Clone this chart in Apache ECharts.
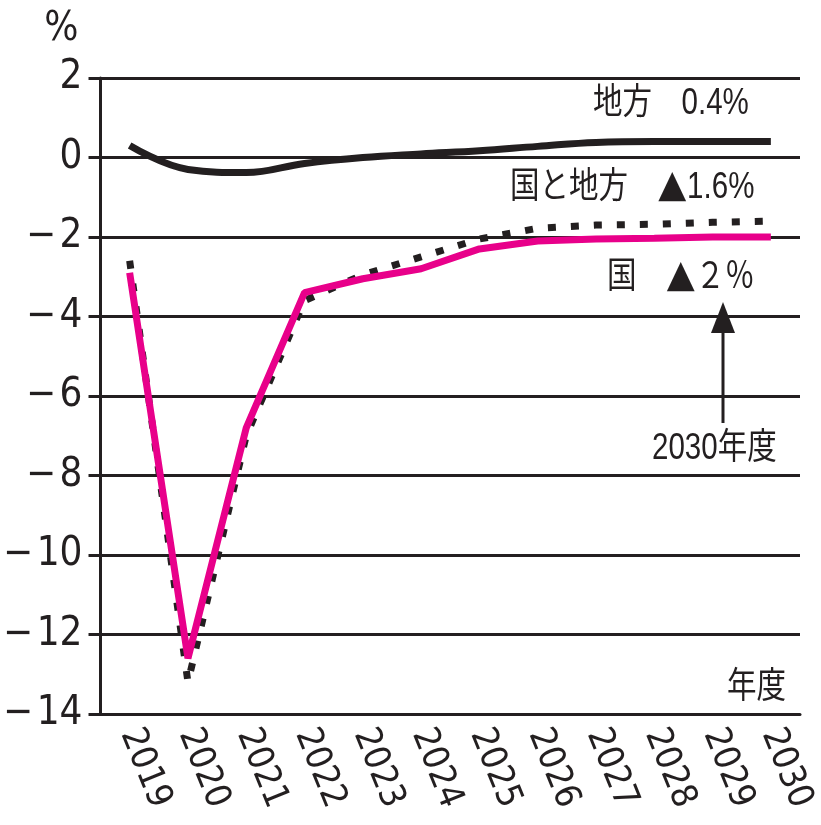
<!DOCTYPE html>
<html lang="ja">
<head>
<meta charset="UTF-8">
<title>プライマリーバランス（対GDP比）</title>
<script src="https://cdn.jsdelivr.net/npm/echarts@6/dist/echarts.min.js"></script>
<style>
  html, body { margin: 0; padding: 0; background: #fff; }
  #chart { width: 821px; height: 825px; }
</style>
</head>
<body>
<div id="chart"></div>
<script>
// 年度
var years = ['2019', '2020', '2021', '2022', '2023', '2024', '2025', '2026', '2027', '2028', '2029', '2030'];
// 地方 (黒実線)
var chihou = [0.3, -0.3, -0.38, -0.15, 0.0, 0.09, 0.17, 0.28, 0.38, 0.4, 0.4, 0.4];
// 国と地方 (黒点線)
var kuniChihou = [-2.6, -13.2, -7.0, -3.6, -2.95, -2.5, -2.05, -1.78, -1.7, -1.68, -1.63, -1.6];
// 国 (マゼンタ)
var kuni = [-2.9, -12.6, -6.8, -3.4, -3.05, -2.8, -2.3, -2.1, -2.05, -2.03, -2.0, -2.0];
// 目盛り
var yMin = -14, yMax = 2, yStep = 2;

var INK = '#231f20';
var PINK = '#e8008a';
var narrow = "'Liberation Sans Narrow', 'DejaVu Sans Condensed', 'Liberation Sans', sans-serif";
var labelFont = "'Liberation Sans', 'Noto Sans CJK JP', sans-serif";

// 注記テキスト（横長体を再現するため少し横に縮める）
function note(text, x, y) {
  return {
    type: 'text', x: x, y: y, scaleX: 0.82,
    style: {
      text: text, fill: INK, fontSize: 36, fontFamily: labelFont, align: 'left', verticalAlign: 'middle',
      rich: {
        tri: { fontSize: 36, fontFamily: "'Noto Sans CJK JP'", fill: INK }
      }
    }
  };
}

var chart = echarts.init(document.getElementById('chart'));
chart.setOption({
  animation: false,
  grid: { left: 93, right: 21, top: 78, bottom: 111 },
  xAxis: {
    type: 'category',
    data: years,
    boundaryGap: true,
    axisLine: { show: true, onZero: false, lineStyle: { color: INK, width: 3 } },
    axisTick: { show: false },
    axisLabel: { rotate: -68, margin: 16, color: INK, fontSize: 36, fontFamily: narrow },
    splitLine: { show: false }
  },
  yAxis: {
    type: 'value',
    min: yMin, max: yMax, interval: yStep,
    name: '%',
    nameLocation: 'end',
    nameGap: 48,
    nameTextStyle: { color: INK, fontSize: 40, fontFamily: narrow, align: 'right', verticalAlign: 'middle', padding: [0, 22, 0, 0] },
    axisLine: { show: true, lineStyle: { color: INK, width: 3 } },
    axisTick: { show: true, length: 12, lineStyle: { color: INK, width: 3 } },
    axisLabel: {
      margin: 18, color: INK, fontSize: 40, fontFamily: narrow,
      formatter: function (v) { return v < 0 ? '\u2212\u200a' + (-v) : String(v); }
    },
    splitLine: { show: true, lineStyle: { color: INK, width: 3 } }
  },
  series: [
    {
      name: '国と地方', type: 'line', data: kuniChihou, showSymbol: false,
      lineStyle: { color: INK, width: 7, type: [8, 15] }
    },
    {
      name: '国', type: 'line', data: kuni, showSymbol: false,
      lineStyle: { color: PINK, width: 7 }
    },
    {
      name: '地方', type: 'line', data: chihou, showSymbol: false, smooth: 0.4,
      lineStyle: { color: INK, width: 7 }
    }
  ],
  graphic: [
    note('地方　0.4%', 593, 104),
    note('国と地方　{tri|▲}1.6%', 510, 188),
    note('国　{tri|▲}２％', 607, 278),
    note('2030年度', 652, 449),
    note('年度', 727, 688),
    { type: 'line', shape: { x1: 723, y1: 423, x2: 723, y2: 330 }, style: { stroke: INK, lineWidth: 3 } },
    { type: 'polygon', shape: { points: [[711, 333], [735, 333], [723, 302]] }, style: { fill: INK } }
  ]
});
</script>
</body>
</html>
